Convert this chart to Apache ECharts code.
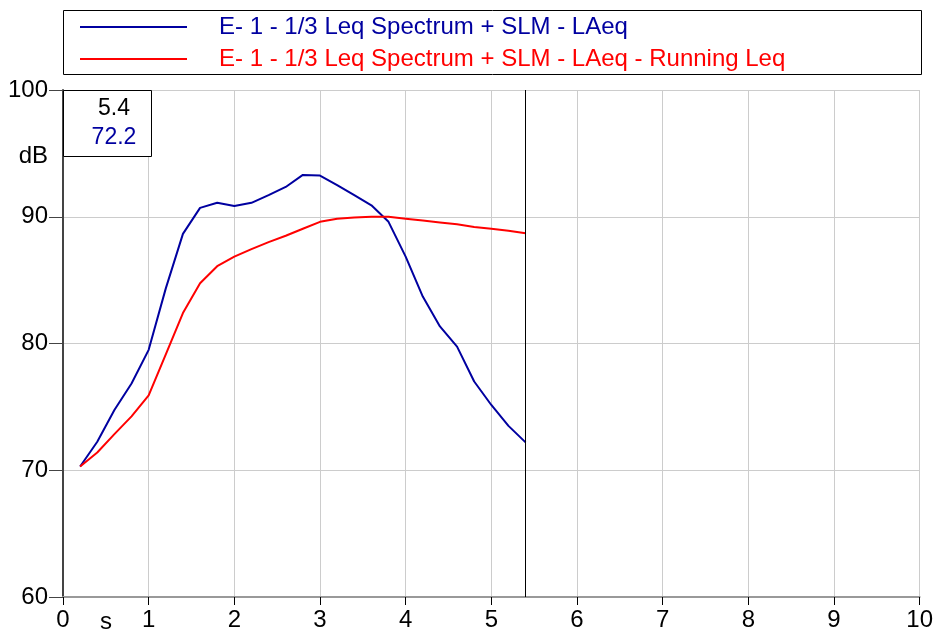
<!DOCTYPE html>
<html>
<head>
<meta charset="utf-8">
<script src="https://cdn.jsdelivr.net/npm/echarts@6/dist/echarts.min.js"></script>
<style>html,body{margin:0;padding:0;background:#fff}#c{width:936px;height:636px}</style>
</head>
<body>
<div id="c"></div>
<script>
const times = [0.2,0.4,0.6,0.8,1.0,1.2,1.4,1.6,1.8,2.0,2.2,2.4,2.6,2.8,3.0,3.2,3.4,3.6,3.8,4.0,4.2,4.4,4.6,4.8,5.0,5.2,5.4];
const laeq = [70.3,72.25,74.75,76.85,79.5,84.35,88.65,90.7,91.1,90.85,91.1,91.7,92.35,93.3,93.25,92.5,91.7,90.9,89.6,86.85,83.7,81.35,79.75,77.0,75.15,73.5,72.2];
const runningLeq = [70.3,71.4,72.85,74.25,75.9,79.15,82.4,84.75,86.1,86.85,87.45,88.0,88.5,89.05,89.6,89.85,89.95,90.0,90.0,89.85,89.7,89.55,89.4,89.2,89.05,88.9,88.7];
const seriesNames = ['E- 1 - 1/3 Leq Spectrum + SLM - LAeq','E- 1 - 1/3 Leq Spectrum + SLM - LAeq - Running Leq'];
const seriesColors = ['#0000a0','#ff0000'];
const cursorX = 5.4;
const cursorValue = '72.2';
const xTicks = [0,1,2,3,4,5,6,7,8,9,10];
const yTicks = [60,70,80,90,100];

const font = 'Liberation Sans, Arial, sans-serif';
const fs = 24;
const chart = echarts.init(document.getElementById('c'), null, {renderer:'canvas'});
const pair = a => times.map((t,i)=>[t,a[i]]);
chart.setOption({
  animation:false,
  textStyle:{fontFamily:font},
  grid:{left:63,right:14,top:90,bottom:39,containLabel:false},
  legend:{
    orient:'vertical', left:75, top:10, itemGap:8,
    icon:'rect', itemWidth:107, itemHeight:2,
    textStyle:{fontSize:fs,fontFamily:font,padding:[0,0,0,27]},
    data: seriesNames.map((n,i)=>({name:n,textStyle:{color:seriesColors[i]}})),
    selectedMode:false
  },
  xAxis:{
    type:'value', min:xTicks[0], max:xTicks[xTicks.length-1], interval:1,
    axisLine:{onZero:false,lineStyle:{color:'#999',width:2}},
    axisTick:{show:true,length:8,lineStyle:{color:'#000',width:1}},
    axisLabel:{color:'#000',fontSize:fs,margin:11,fontFamily:font},
    splitLine:{show:true,lineStyle:{color:'#cccccc',width:1}}
  },
  yAxis:{
    type:'value', min:yTicks[0], max:yTicks[yTicks.length-1], interval:10,
    axisLine:{show:true,onZero:false,lineStyle:{color:'#444',width:2}},
    axisTick:{show:true,length:14,lineStyle:{color:'#444',width:1}},
    axisLabel:{color:'#000',fontSize:fs,margin:15,fontFamily:font},
    splitLine:{show:true,lineStyle:{color:'#cccccc',width:1}}
  },
  series:[
    {name:seriesNames[0],type:'line',data:pair(laeq),showSymbol:false,symbol:'none',
     lineStyle:{color:seriesColors[0],width:2},itemStyle:{color:seriesColors[0]},
     markLine:{silent:true,symbol:['none','none'],label:{show:false},
       lineStyle:{color:'#000',width:1,type:'solid'},data:[{xAxis:cursorX}]}},
    {name:seriesNames[1],type:'line',data:pair(runningLeq),showSymbol:false,symbol:'none',
     lineStyle:{color:seriesColors[1],width:2},itemStyle:{color:seriesColors[1]}}
  ]
});
const p0 = chart.convertToPixel({gridIndex:0},[0,100]);
chart.setOption({
  graphic:[
    {type:'rect',shape:{x:63.5,y:10.5,width:858,height:64},style:{fill:null,stroke:'#000',lineWidth:1},z:-1},
    {type:'rect',shape:{x:p0[0]+0.5,y:p0[1]+0.5,width:88,height:66},style:{fill:'#fff',stroke:'#000',lineWidth:1},z:50},
    {type:'text',x:p0[0]+51,y:p0[1]+19,style:{text:String(cursorX),fill:'#000',font:'23px '+font,align:'center',verticalAlign:'middle'},z:51},
    {type:'text',x:p0[0]+51,y:p0[1]+48,style:{text:cursorValue,fill:seriesColors[0],font:'23px '+font,align:'center',verticalAlign:'middle'},z:51},
    {type:'text',x:48,y:p0[1]+66,style:{text:'dB',fill:'#000',font:fs+'px '+font,align:'right',verticalAlign:'middle'},z:51},
    {type:'text',x:106,y:622,style:{text:'s',fill:'#000',font:fs+'px '+font,align:'center',verticalAlign:'middle'},z:51}
  ]
});
</script>
</body>
</html>
